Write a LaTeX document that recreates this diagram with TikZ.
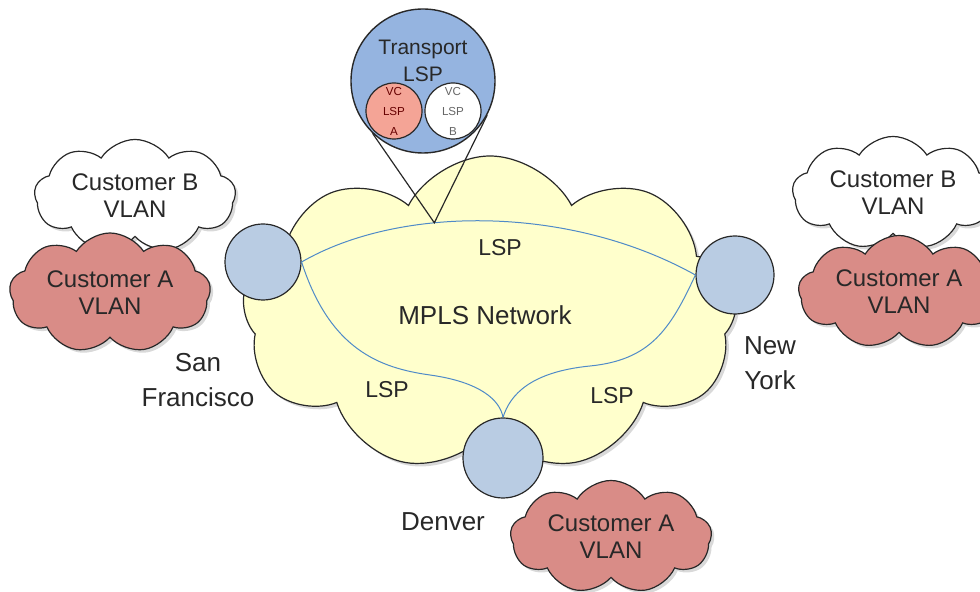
\documentclass[tikz,border=0pt]{standalone}
\usepackage{fontspec}
\setmainfont{Liberation Sans}
\usetikzlibrary{shapes.symbols,shadows}

\definecolor{mplsyellow}{RGB}{255,255,204}
\definecolor{custred}{RGB}{217,140,135}
\definecolor{routerblue}{RGB}{185,204,227}
\definecolor{transblue}{RGB}{149,180,224}
\definecolor{vcred}{RGB}{244,164,150}
\definecolor{lspblue}{RGB}{79,138,200}
\definecolor{inkgray}{RGB}{40,40,40}

\tikzset{
  shade/.style={drop shadow={shadow xshift=1.5pt,shadow yshift=-1.5pt,opacity=0.3}},
  net/.style={cloud,cloud puffs=9,cloud puff arc=125,cloud ignores aspect,
    draw=inkgray,line width=0.6pt,fill=mplsyellow,shade},
  vlan/.style={cloud,cloud puffs=9,cloud puff arc=115,cloud ignores aspect,
    draw=inkgray,line width=0.6pt,shade,align=center,text=inkgray,
    font=\fontsize{12}{13.5}\selectfont},
  vlanA/.style={vlan,fill=custred},
  vlanB/.style={vlan,fill=white},
  router/.style={circle,draw=inkgray,line width=0.6pt,fill=routerblue,minimum size=38pt},
  lsp/.style={draw=lspblue,line width=0.5pt},
  place/.style={align=center,text=inkgray,font=\fontsize{13}{17.5}\selectfont},
  lsplabel/.style={text=inkgray,font=\fontsize{11.5}{13}\selectfont},
  vc/.style={circle,draw=inkgray,line width=0.6pt,minimum size=28pt,inner sep=0pt,
    align=center,font=\fontsize{5.8}{10}\selectfont},
}

\begin{document}
\begin{tikzpicture}[x=0.5pt,y=-0.5pt]
  \useasboundingbox (0,0) rectangle (980,592);
  % the provider network
  \node[net,shape border rotate=20,minimum width=248pt,minimum height=158pt] (mpls) at (490,314) {};
  \node[text=inkgray,font=\fontsize{13}{15}\selectfont] (mplslabel) at (485,315) {MPLS Network};

  % customer sites
  \node[vlanB,minimum width=87pt,minimum height=48pt] (sfb) at (135,196) {Customer B\\VLAN};
  \node[vlanA,minimum width=95pt,minimum height=60pt] (sfa) at (110,293) {Customer A\\VLAN};
  \node[vlanB,minimum width=86pt,minimum height=51pt] (nyb) at (893,193) {Customer B\\VLAN};
  \node[vlanA,minimum width=88pt,minimum height=54pt] (nya) at (899,292) {Customer A\\VLAN};
  \node[vlanA,minimum width=89pt,minimum height=55pt] (dena) at (611,537) {Customer A\\VLAN};

  % edge routers
  \node[router] (sf) at (263,262) {};
  \node[router,minimum size=39pt] (ny) at (735,275) {};
  \node[router,minimum size=40pt] (den) at (503,458) {};

  \node[place] (sfname) at (198,380) {San\\Francisco};
  \node[place] (nyname) at (770,363) {New\\York};
  \node[place] (denname) at (443,522) {Denver};

  % label switched paths
  \draw[lsp] (sf.east) .. controls (400,205) and (570,205) .. (ny.west)
    coordinate[pos=0.37] (apex);
  \draw[lsp] (sf.east) .. controls (330,350) and (380,368) .. (430,375)
    .. controls (480,382) and (500,400) .. (den.north);
  \draw[lsp] (den.north) .. controls (510,395) and (530,372) .. (590,366)
    .. controls (650,360) and (670,330) .. (ny.west);
  \node[lsplabel] (lsptop) at (500,248) {LSP};
  \node[lsplabel] (lspleft) at (387,390) {LSP};
  \node[lsplabel] (lspright) at (612,396) {LSP};

  % zoom on the transport LSP
  \node[circle,draw=inkgray,line width=0.7pt,fill=transblue,minimum size=72pt] (tlsp) at (423,81) {};
  \draw[inkgray,line width=0.6pt] (tlsp.226) -- (apex) -- (tlsp.332);
  \node[align=center,text=inkgray,font=\fontsize{10.5}{13.5}\selectfont] (tlsplabel) at (423,61) {Transport\\LSP};
  \node[vc,fill=vcred,text=red!40!black] (vca) at (394,111) {VC\\LSP\\A};
  \node[vc,fill=white,text=black!60] (vcb) at (453,111) {VC\\LSP\\B};
\end{tikzpicture}
\end{document}
